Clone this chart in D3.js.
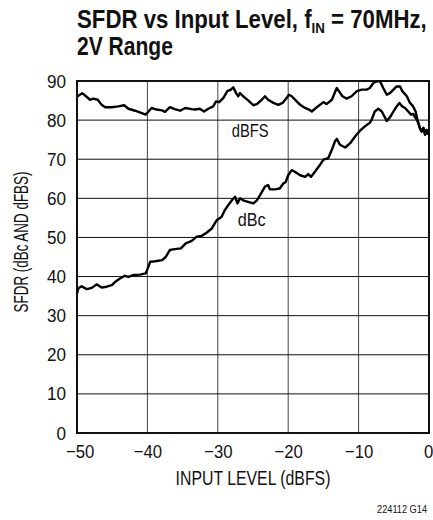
<!DOCTYPE html>
<html><head><meta charset="utf-8">
<script src="https://cdn.jsdelivr.net/npm/d3@7/dist/d3.min.js"></script>
<style>
body{margin:0;background:#fff;}
svg text{font-family:"Liberation Sans",Arial,sans-serif;fill:#111;}
</style></head><body>
<svg id="c" width="433" height="520"></svg>
<script>
// ---- data ----
const xTicks = [-50, -40, -30, -20, -10, 0];
const xTickLabels = ["\u221250", "\u221240", "\u221230", "\u221220", "\u221210", "0"];
const yTicks = [0, 10, 20, 30, 40, 50, 60, 70, 80, 90];
const yTickLabels = ["0", "10", "20", "30", "40", "50", "60", "70", "80", "90"];

const dbfsLevel = [-49.9,-49.25,-48.6,-48.15,-47.7,-47.05,-46.5,-46.0,-45.05,-44.15,-43.3,-42.7,-41.75,-40.8,-40.25,-39.85,-39.4,-38.7,-37.9,-37.5,-36.8,-36.1,-35.35,-34.65,-33.7,-33.25,-32.55,-31.95,-31.35,-30.65,-30.25,-29.8,-29.2,-28.65,-28.15,-27.8,-27.4,-27.1,-26.85,-26.4,-25.65,-24.95,-24.45,-23.75,-23.3,-22.85,-22.1,-21.4,-20.8,-20.2,-19.9,-19.5,-18.9,-18.3,-17.6,-17.05,-16.65,-16.2,-15.5,-15.0,-14.55,-13.8,-13.1,-12.8,-12.3,-11.7,-11.0,-10.25,-9.55,-8.85,-8.4,-7.9,-7.45,-6.95,-6.5,-6.0,-5.55,-5.05,-4.6,-4.1,-3.8,-3.15,-2.7,-2.25,-1.9,-1.6,-1.3,-1.05,-0.8,-0.55,-0.35,-0.1];
const dbfsSfdr = [86.1,86.9,85.9,85.2,85.5,85.2,83.9,83.3,83.3,83.5,83.8,82.9,82.4,81.8,81.4,82.2,83.1,82.7,82.5,82.1,83.3,82.8,82.4,83.1,82.8,82.7,82.9,82.2,82.9,83.5,84.8,84.6,85.7,87.4,87.8,88.4,86.9,86.1,86.9,86.1,85.0,83.8,84.1,85.2,86.1,85.2,84.4,83.9,84.4,85.7,86.5,86.1,85.0,83.9,83.1,82.7,82.2,82.9,83.9,84.6,84.1,85.2,88.2,87.4,86.1,85.5,86.1,87.4,87.8,87.8,88.2,89.5,89.9,89.9,88.2,86.5,86.9,87.8,88.6,88.6,87.4,86.1,84.4,83.5,82.2,79.7,78.0,77.1,78.0,76.3,77.5,76.3];

const dbcLevel = [-50.0,-49.8,-49.35,-48.6,-47.9,-47.2,-46.5,-45.8,-45.05,-44.6,-43.9,-43.2,-42.7,-42.0,-41.05,-40.25,-39.95,-39.6,-38.9,-37.9,-37.4,-36.8,-36.1,-35.25,-34.55,-33.7,-33.0,-32.3,-31.6,-30.85,-30.15,-29.45,-29.0,-28.5,-28.0,-27.55,-27.2,-26.85,-26.4,-25.7,-24.95,-24.45,-24.0,-23.3,-22.85,-22.6,-21.9,-21.2,-20.7,-20.35,-20.0,-19.5,-19.05,-18.3,-17.6,-17.15,-16.75,-16.2,-15.5,-15.0,-14.3,-13.8,-13.35,-13.1,-12.65,-11.9,-11.2,-10.5,-9.8,-9.1,-8.4,-8.15,-7.7,-7.2,-6.7,-6.35,-6.0,-5.55,-5.05,-4.6,-4.2,-3.8,-3.4,-2.95,-2.55,-2.25,-1.9,-1.6,-1.3,-1.05,-0.8,-0.55,-0.35,-0.1];
const dbcSfdr = [35.7,37.0,37.5,36.8,37.1,38.0,37.2,37.4,37.8,38.6,39.5,40.2,39.9,40.4,40.5,40.8,42.1,43.8,43.9,44.2,45.0,46.8,47.0,47.2,48.5,49.1,50.2,50.4,51.2,52.3,54.4,55.3,57.0,58.3,59.5,60.4,58.7,60.0,59.5,59.1,58.7,59.5,60.8,63.0,63.4,62.3,62.3,62.5,63.8,64.2,65.9,67.2,66.8,65.9,65.5,66.2,65.5,66.8,68.5,69.9,70.3,72.4,74.6,75.2,73.7,73.0,74.1,75.8,77.3,78.4,79.3,80.1,82.2,82.9,82.2,81.0,79.8,80.7,82.2,83.5,84.4,83.5,83.1,82.2,81.4,81.6,80.5,79.7,78.0,77.1,78.0,76.3,77.5,76.3];

const seriesLabels = ["dBFS", "dBc"];

// ---- layout ----
const svg = d3.select("#c");
const L = 77, R = 429, T = 81, B = 433;
const x = d3.scaleLinear().domain([-50, 0]).range([L, R]);
const y = d3.scaleLinear().domain([0, 90]).range([B, T]);

// horizontally condense a text element (emulates a condensed face)
function squeeze(sel, k) {
  sel.each(function () {
    const x0 = +this.getAttribute("x") || 0;
    this.setAttribute("x", x0 / k);
    const t = this.getAttribute("transform") || "";
    this.setAttribute("transform", t + ` scale(${k},1)`);
  });
}
function fitWidth(sel, w) {
  sel.each(function () {
    const bw = this.getBBox().width;
    squeeze(d3.select(this), w / bw);
  });
}

// title
const title = svg.append("text")
  .style("font-size", "25px").style("font-weight", "bold");
title.append("tspan").text("SFDR vs Input Level, f");
title.append("tspan").text("IN").style("font-size", "15px").attr("dy", 5);
title.append("tspan").text(" = 70MHz,").attr("dy", -5);
title.attr("transform", "translate(77,28)").attr("x", 0).attr("y", 0);
fitWidth(title, 350);
const title2 = svg.append("text").attr("transform", "translate(77,55)")
  .style("font-size", "25px").style("font-weight", "bold").text("2V Range");
fitWidth(title2, 96);

// grid
const g = svg.append("g");
g.selectAll(".vg").data(xTicks.slice(1, -1)).join("line")
  .attr("x1", d => x(d)).attr("x2", d => x(d)).attr("y1", T).attr("y2", B)
  .attr("stroke", "#444").attr("stroke-width", 1);
g.selectAll(".hg").data(yTicks.slice(1, -1)).join("line")
  .attr("x1", L).attr("x2", R).attr("y1", d => y(d)).attr("y2", d => y(d))
  .attr("stroke", "#111").attr("stroke-width", 1);

// axes
const xa = svg.append("g").attr("transform", `translate(0,${B})`)
  .call(d3.axisBottom(x).tickValues(xTicks).tickSize(0).tickPadding(12)
    .tickFormat((d, i) => xTickLabels[i]));
xa.select(".domain").remove();
xa.selectAll("text").style("font-size", "19px").style("font-family", null).attr("fill", null)
  .attr("dx", (d, i) => i === 0 ? 3 : (i === xTicks.length - 1 ? -1 : 0));
squeeze(xa.selectAll("text"), 0.88);

const ya = svg.append("g").attr("transform", `translate(${L},0)`)
  .call(d3.axisLeft(y).tickValues(yTicks).tickSize(0).tickPadding(11)
    .tickFormat((d, i) => yTickLabels[i]));
ya.select(".domain").remove();
ya.selectAll("text").style("font-size", "19px").style("font-family", null).attr("fill", null);
squeeze(ya.selectAll("text"), 0.9);

// border
svg.append("rect").attr("x", L).attr("y", T).attr("width", R - L).attr("height", B - T)
  .attr("fill", "none").attr("stroke", "#111").attr("stroke-width", 2);

// lines
const line = d3.line().x(d => x(d[0])).y(d => y(d[1]));
svg.append("path").datum(d3.zip(dbfsLevel, dbfsSfdr)).attr("d", line)
  .attr("fill", "none").attr("stroke", "#000").attr("stroke-width", 2.4).attr("stroke-linejoin", "round");
svg.append("path").datum(d3.zip(dbcLevel, dbcSfdr)).attr("d", line)
  .attr("fill", "none").attr("stroke", "#000").attr("stroke-width", 2.4).attr("stroke-linejoin", "round");

// series labels
const l1 = svg.append("text").attr("x", x(-25.4)).attr("y", y(75.7)).attr("text-anchor", "middle")
  .style("font-size", "18px").text(seriesLabels[0]);
squeeze(l1, 0.82);
const l2 = svg.append("text").attr("x", x(-25.2)).attr("y", y(52.9)).attr("text-anchor", "middle")
  .style("font-size", "18px").text(seriesLabels[1]);
squeeze(l2, 0.9);

// axis titles
const xt = svg.append("text").attr("x", (L + R) / 2).attr("y", 485).attr("text-anchor", "middle")
  .style("font-size", "20px").text("INPUT LEVEL (dBFS)");
fitWidth(xt, 155);
const yt = svg.append("text").attr("transform", "translate(28,242) rotate(-90)").attr("text-anchor", "middle")
  .style("font-size", "20.5px").text("SFDR (dBc AND dFBS)");
fitWidth(yt, 141);

// footnote
const fn = svg.append("text").attr("x", 427).attr("y", 513).attr("text-anchor", "end")
  .style("font-size", "11px").text("224112 G14");
fitWidth(fn, 50);
</script>
</body></html>
